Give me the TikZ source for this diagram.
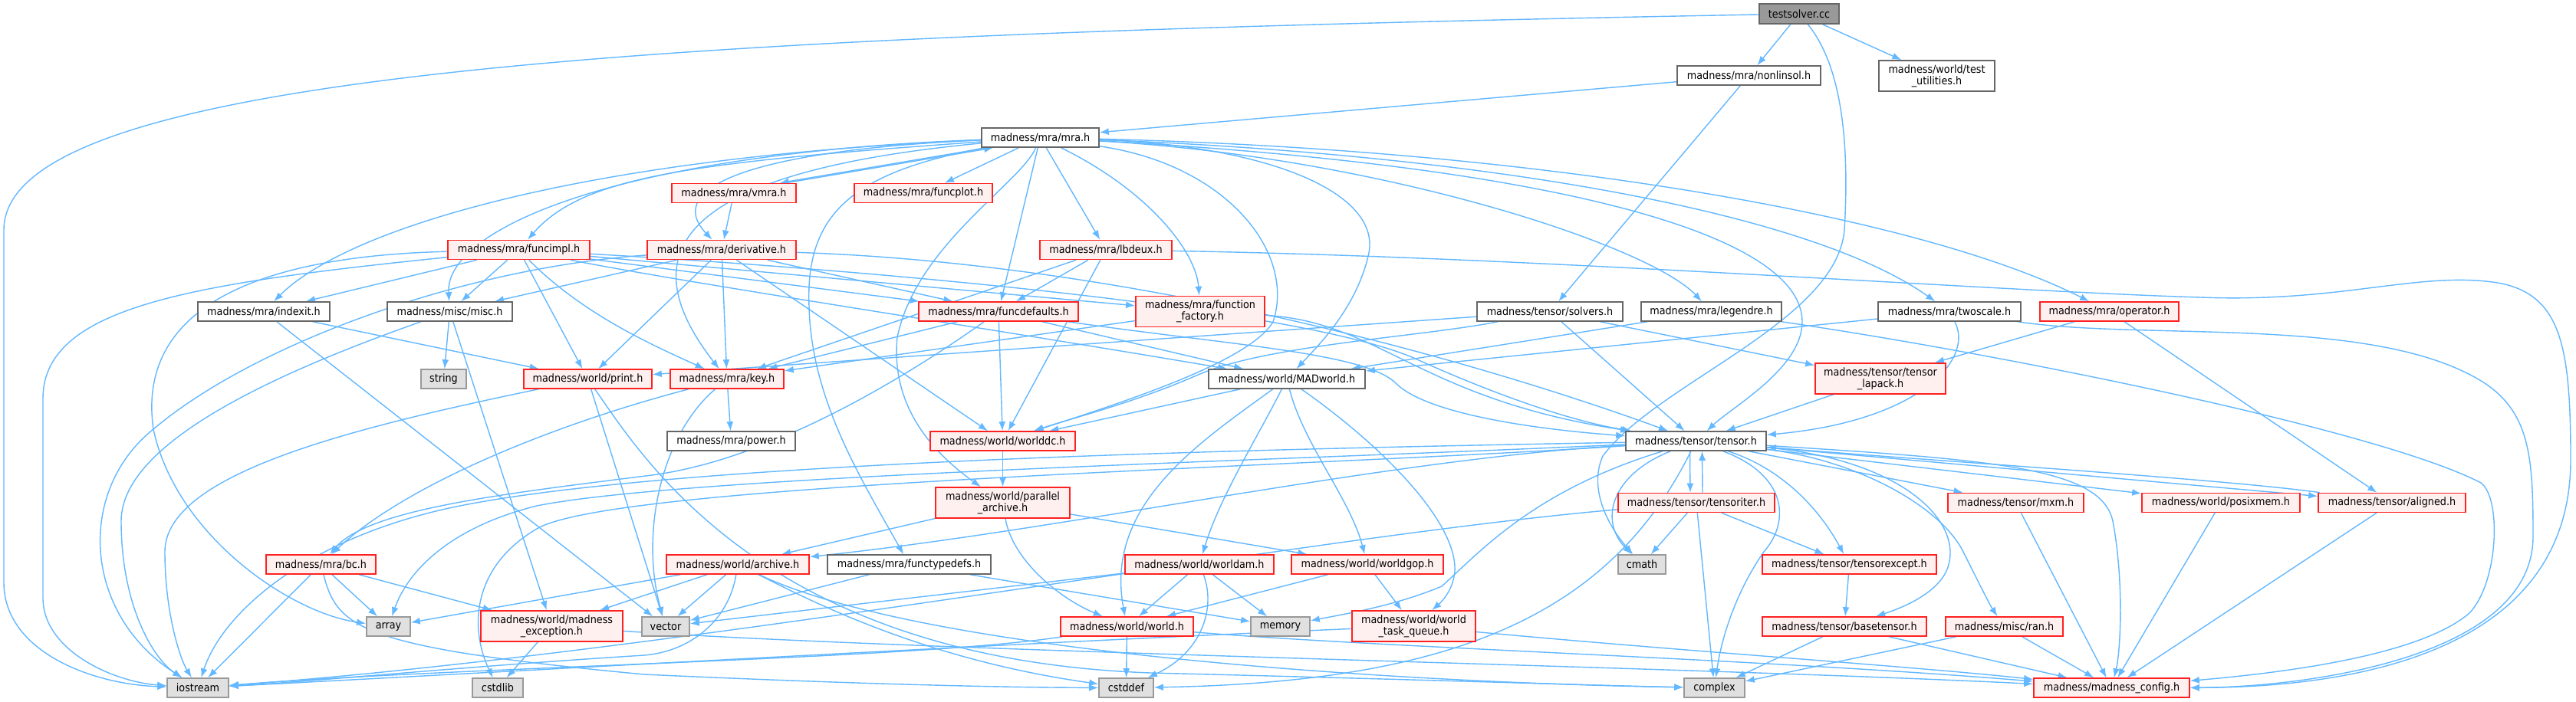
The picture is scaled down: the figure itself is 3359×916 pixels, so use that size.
\documentclass[tikz,border=0pt]{standalone}
\usepackage{fontspec}
\setmainfont{DejaVu Sans}[FakeStretch=0.9]
\usetikzlibrary{arrows.meta,calc}
\pgfdeclarelayer{bg}
\pgfsetlayers{bg,main}
\definecolor{edgecol}{HTML}{63B8FF}
\definecolor{redfill}{HTML}{FFF0F0}
\definecolor{extfill}{HTML}{E0E0E0}
\definecolor{extdraw}{HTML}{999999}
\definecolor{nddraw}{HTML}{666666}
\definecolor{rootfill}{HTML}{999999}
\definecolor{reddraw}{HTML}{FF2020}
\tikzset{
  base/.style={rectangle, inner sep=0pt, line width=0.8pt, minimum height=12.5pt, font=\fontsize{7.1}{7.6}\selectfont, align=center},
  nd/.style={base, draw=nddraw, fill=white},
  rd/.style={base, draw=reddraw, fill=redfill},
  ex/.style={base, draw=extdraw, fill=extfill},
  rt/.style={base, draw=nddraw, fill=rootfill, minimum height=13pt},
  tall/.style={minimum height=20pt},
  edge/.style={draw=edgecol, line width=0.7pt, -{Latex[length=6pt,width=4.5pt]}},
}
\begin{document}
\begin{tikzpicture}[x=0.5pt,y=-0.5pt]
\useasboundingbox (0,0) rectangle (3359,916);
% nodes
\node[rt, minimum width=52pt] (T) at (2346,18) {testsolver.cc};
\node[nd, minimum width=93.5pt] (NL) at (2280.5,98.5) {madness/mra/nonlinsol.h};
\node[nd, tall, minimum width=75.5pt] (TU) at (2525.5,99) {madness/world/test\\\_utilities.h};
\node[nd, minimum width=76.5pt] (MRA) at (1356.5,179.5) {madness/mra/mra.h};
\node[rd, minimum width=81pt] (VMRA) at (957,252) {madness/mra/vmra.h};
\node[rd, minimum width=90pt] (FPLOT) at (1204,252) {madness/mra/funcplot.h};
\node[rd, minimum width=92.5pt] (FIMPL) at (676.5,326) {madness/mra/funcimpl.h};
\node[rd, minimum width=97pt] (DER) at (941,326) {madness/mra/derivative.h};
\node[rd, minimum width=86pt] (LB) at (1442,326) {madness/mra/lbdeux.h};
\node[nd, minimum width=86pt] (IDX) at (344,406.5) {madness/mra/indexit.h};
\node[nd, minimum width=81.5pt] (MISC) at (586.5,406.5) {madness/misc/misc.h};
\node[rd, minimum width=104pt] (FDEF) at (1302,406.5) {madness/mra/funcdefaults.h};
\node[rd, tall, minimum width=84pt] (FFAC) at (1565,406.5) {madness/mra/function\\\_factory.h};
\node[nd, minimum width=95pt] (SOLV) at (2021,406.5) {madness/tensor/solvers.h};
\node[nd, minimum width=91.5pt] (LEG) at (2231.5,406.5) {madness/mra/legendre.h};
\node[nd, minimum width=93pt] (TWO) at (2542,406.5) {madness/mra/twoscale.h};
\node[rd, minimum width=90.5pt] (OP) at (2750.5,406.5) {madness/mra/operator.h};
\node[ex, minimum width=29.5pt] (STR) at (578.5,494.5) {string};
\node[rd, minimum width=83.5pt] (PRINT) at (766.5,494.5) {madness/world/print.h};
\node[rd, minimum width=74pt] (KEY) at (948,494.5) {madness/mra/key.h};
\node[nd, minimum width=102pt] (MADW) at (1678,494.5) {madness/world/MADworld.h};
\node[rd, tall, minimum width=85pt] (LAPACK) at (2452,494) {madness/tensor/tensor\\\_lapack.h};
\node[nd, minimum width=83.5pt] (POW) at (953.5,575.5) {madness/mra/power.h};
\node[rd, minimum width=94.5pt] (WDC) at (1307.5,575.5) {madness/world/worlddc.h};
\node[nd, minimum width=91.5pt] (TENS) at (2211.5,575.5) {madness/tensor/tensor.h};
\node[rd, tall, minimum width=87.5pt] (PAR) at (1307.5,656) {madness/world/parallel\\\_archive.h};
\node[rd, minimum width=102pt] (TITER) at (2212,656) {madness/tensor/tensoriter.h};
\node[rd, minimum width=88.5pt] (MXM) at (2628.5,656) {madness/tensor/mxm.h};
\node[rd, minimum width=103pt] (POSIX) at (2896,656) {madness/world/posixmem.h};
\node[rd, minimum width=96pt] (ALIGN) at (3119,656) {madness/tensor/aligned.h};
\node[rd, minimum width=71.5pt] (BC) at (418.5,736.5) {madness/mra/bc.h};
\node[rd, minimum width=93pt] (ARCH) at (962,736.5) {madness/world/archive.h};
\node[nd, minimum width=106.5pt] (FTD) at (1185.5,736.5) {madness/mra/functypedefs.h};
\node[rd, minimum width=97pt] (WAM) at (1564,736.5) {madness/world/worldam.h};
\node[rd, minimum width=99pt] (WGOP) at (1783,736.5) {madness/world/worldgop.h};
\node[ex, minimum width=31pt] (CMATH) at (2141,736.5) {cmath};
\node[rd, minimum width=113.5pt] (TEXC) at (2411.5,736.5) {madness/tensor/tensorexcept.h};
\node[ex, minimum width=28.5pt] (ARRAY) at (506.5,817.5) {array};
\node[rd, tall, minimum width=92.5pt] (MEXC) at (719.5,817) {madness/world/madness\\\_exception.h};
\node[ex, minimum width=31pt] (VEC) at (868,817.5) {vector};
\node[rd, minimum width=86.5pt] (WORLD) at (1469.5,817.5) {madness/world/world.h};
\node[ex, minimum width=38.5pt] (MEM) at (1669.5,817.5) {memory};
\node[rd, tall, minimum width=80.5pt] (WTQ) at (1843.5,817) {madness/world/world\\\_task\_queue.h};
\node[rd, minimum width=107pt] (BASET) at (2405,817.5) {madness/tensor/basetensor.h};
\node[rd, minimum width=76.5pt] (RAN) at (2613.5,817.5) {madness/misc/ran.h};
\node[ex, minimum width=40pt] (IOS) at (258,897.5) {iostream};
\node[ex, minimum width=33pt] (CSTDLIB) at (649,897.5) {cstdlib};
\node[ex, minimum width=35.5pt] (CSTDDEF) at (1468.5,897.5) {cstddef};
\node[ex, minimum width=39.5pt] (COMPLEX) at (2235.5,897.5) {complex};
\node[rd, minimum width=101.5pt] (CFG) at (2753.5,897.5) {madness/madness\_config.h};

\begin{pgfonlayer}{bg}
\fill[white] (0,0) rectangle (3359,916);
% testsolver
\draw[edge] (T) -- (NL);
\draw[edge] (T) -- (TU);
\draw[edge] (T) .. controls (900,45) and (5,90) .. (5,300) -- (5,760) .. controls (5,850) and (120,893) .. (IOS);
\draw[edge] (T) .. controls (2405,90) and (2411,200) .. (2405,300) .. controls (2395,420) and (2160,500) .. (2090,595) .. controls (2070,640) and (2100,690) .. (CMATH);
% nonlinsol
\draw[edge] (NL) -- (MRA);
\draw[edge] (NL) -- (SOLV);
% mra
\draw[edge] ($(MRA.south west)+(8,0)$) -- ($(VMRA.north east)+(-22,0)$);
\draw[edge] ($(VMRA.north east)+(-14,0)$) -- ($(MRA.south west)+(16,0)$);
\draw[edge] (MRA) -- (FPLOT);
\draw[edge] (MRA) .. controls (900,212) and (760,230) .. (FIMPL);
\draw[edge] (MRA) .. controls (1000,195) and (860,240) .. (DER);
\draw[edge] (MRA) .. controls (750,205) and (450,300) .. (IDX);
\draw[edge] (MRA) .. controls (800,200) and (580,300) .. (MISC);
\draw[edge] (MRA) .. controls (880,225) and (820,330) .. (KEY);
\draw[edge] (MRA) -- (FDEF);
\draw[edge] (MRA) -- (LB);
\draw[edge] (MRA) .. controls (1500,250) and (1560,330) .. (FFAC);
\draw[edge] (MRA) .. controls (1110,225) and (1050,280) .. (1055,400) .. controls (1058,520) and (1120,620) .. (FTD);
\draw[edge] (MRA) .. controls (1330,240) and (1195,320) .. (1170,440) .. controls (1160,540) and (1230,600) .. (PAR);
\draw[edge] (MRA) .. controls (1650,190) and (1800,250) .. (1785,330) .. controls (1770,400) and (1720,450) .. (MADW);
\draw[edge] (MRA) .. controls (1800,205) and (2150,320) .. (LEG);
\draw[edge] (MRA) .. controls (2000,215) and (2350,300) .. (2350,420) .. controls (2350,480) and (2260,530) .. (TENS);
\draw[edge] (MRA) .. controls (1900,200) and (2350,270) .. (TWO);
\draw[edge] (MRA) .. controls (2000,195) and (2500,280) .. (OP);
\draw[edge] (MRA) .. controls (1600,215) and (1690,330) .. (1660,420) .. controls (1630,470) and (1480,520) .. (WDC);
% vmra
\draw[edge] (VMRA) -- (DER);
% funcimpl
\draw[edge] (FIMPL) -- (IDX);
\draw[edge] (FIMPL) -- (MISC);
\draw[edge] (FIMPL) -- (PRINT);
\draw[edge] (FIMPL) .. controls (760,410) and (850,450) .. (KEY);
\draw[edge] (FIMPL) -- (FDEF);
\draw[edge] (FIMPL) -- (FFAC);
\draw[edge] (FIMPL) .. controls (900,370) and (1300,430) .. (MADW);
\draw[edge] (FIMPL) .. controls (1100,350) and (1700,400) .. (1850,470) .. controls (1950,515) and (2050,550) .. (TENS);
\draw[edge] (FIMPL) .. controls (250,370) and (56,400) .. (56,520) -- (56,780) .. controls (56,850) and (150,890) .. (IOS);
\draw[edge] (FIMPL) .. controls (300,335) and (180,420) .. (200,560) .. controls (230,700) and (380,800) .. (ARRAY);
% derivative
\draw[edge] (DER) -- (MISC);
\draw[edge] (DER) -- (KEY);
\draw[edge] (DER) -- (PRINT);
\draw[edge] (DER) -- (FDEF);
\draw[edge] (DER) -- (WDC);
\draw[edge] (DER) .. controls (1500,345) and (1950,480) .. (TENS);
\draw[edge] (DER) .. controls (600,350) and (330,450) .. (200,560) .. controls (100,640) and (107,800) .. (IOS);
% lbdeux
\draw[edge] (LB) -- (FDEF);
\draw[edge] (LB) -- (KEY);
\draw[edge] (LB) -- (WDC);
\draw[edge] (LB) .. controls (2000,335) and (2600,380) .. (2870,388) .. controls (3050,395) and (3150,355) .. (3250,368) .. controls (3340,380) and (3352,450) .. (3352,600) .. controls (3352,860) and (3050,897) .. (CFG);
% indexit, misc
\draw[edge] (IDX) -- (PRINT);
\draw[edge] (IDX) -- (VEC);
\draw[edge] (MISC) -- (STR);
\draw[edge] (MISC) .. controls (350,490) and (158,580) .. (158,680) .. controls (158,790) and (200,860) .. (IOS);
\draw[edge] (MISC) -- (MEXC);
% funcdefaults
\draw[edge] (FDEF) -- (KEY);
\draw[edge] (FDEF) -- (WDC);
\draw[edge] (FDEF) -- (MADW);
\draw[edge] (FDEF) .. controls (1600,450) and (1780,460) .. (1820,500) .. controls (1860,540) and (2000,560) .. (TENS);
\draw[edge] (FDEF) .. controls (1170,500) and (1000,600) .. (850,620) .. controls (650,645) and (480,665) .. (BC);
% function_factory
\draw[edge] (FFAC) -- (KEY);
\draw[edge] (FFAC) .. controls (1800,420) and (1850,520) .. (TENS);
% solvers
\draw[edge] (SOLV) -- (TENS);
\draw[edge] (SOLV) -- (LAPACK);
\draw[edge] (SOLV) -- (PRINT);
\draw[edge] (SOLV) .. controls (1850,440) and (1650,450) .. (1560,490) .. controls (1480,525) and (1400,545) .. (WDC);
% legendre
\draw[edge] (LEG) -- (MADW);
\draw[edge] (LEG) .. controls (2600,460) and (3100,560) .. (3235,630) .. controls (3262,650) and (3258,760) .. (3220,800) .. controls (3150,860) and (2950,880) .. (CFG);
% twoscale
\draw[edge] (TWO) -- (MADW);
\draw[edge] (TWO) .. controls (2575,470) and (2500,550) .. (TENS);
\draw[edge] (TWO) .. controls (2800,445) and (3100,410) .. (3240,500) .. controls (3300,540) and (3303,600) .. (3303,700) .. controls (3303,860) and (3000,897) .. (CFG);
% operator, lapack
\draw[edge] (OP) -- (LAPACK);
\draw[edge] (OP) -- (ALIGN);
\draw[edge] (LAPACK) -- (TENS);
% print
\draw[edge] (PRINT) .. controls (450,560) and (215,620) .. (215,720) .. controls (215,800) and (235,860) .. (IOS);
\draw[edge] (PRINT) -- (VEC);
\draw[edge] (PRINT) .. controls (840,600) and (1000,860) .. (1500,878) .. controls (1900,888) and (2100,895) .. (COMPLEX);
% key
\draw[edge] (KEY) -- (POW);
\draw[edge] (KEY) .. controls (700,560) and (520,640) .. (BC);
\draw[edge] (KEY) .. controls (860,570) and (835,700) .. (VEC);
% MADworld
\draw[edge] (MADW) -- (WDC);
\draw[edge] (MADW) .. controls (1560,580) and (1440,660) .. (WORLD);
\draw[edge] (MADW) .. controls (1640,570) and (1590,650) .. (WAM);
\draw[edge] (MADW) .. controls (1700,580) and (1760,650) .. (WGOP);
\draw[edge] (MADW) .. controls (1800,580) and (1900,680) .. (1897,745) .. controls (1895,770) and (1880,785) .. (WTQ);
\draw[edge] (WDC) -- (PAR);
% tensor
\draw[edge] ($(TENS.south)+(-8,0)$) -- ($(TITER.north)+(-8,0)$);
\draw[edge] ($(TITER.north)+(8,0)$) -- ($(TENS.south)+(8,0)$);
\draw[edge] (TENS) .. controls (2100,620) and (2085,680) .. (CMATH);
\draw[edge] (TENS) .. controls (2330,620) and (2335,680) .. (2300,720) .. controls (2265,770) and (2245,830) .. (COMPLEX);
\draw[edge] (TENS) .. controls (2320,610) and (2370,660) .. (TEXC);
\draw[edge] (TENS) .. controls (2480,600) and (2560,680) .. (2540,740) .. controls (2530,770) and (2490,790) .. (BASET);
\draw[edge] (TENS) .. controls (2420,600) and (2530,660) .. (2560,720) .. controls (2580,760) and (2595,790) .. (RAN);
\draw[edge] (TENS) -- (MXM);
\draw[edge] (TENS) -- (POSIX);
\draw[edge] (TENS) -- (ALIGN);
\draw[edge] (ALIGN) .. controls (2900,625) and (2500,600) .. (TENS);
\draw[edge] (TENS) .. controls (2600,600) and (2740,610) .. (2755,680) .. controls (2770,760) and (2765,850) .. (CFG);
\draw[edge] (TENS) .. controls (1800,600) and (1400,690) .. (ARCH);
\draw[edge] (TENS) .. controls (1700,600) and (900,620) .. (700,660) .. controls (580,690) and (530,750) .. (ARRAY);
\draw[edge] (TENS) .. controls (1700,585) and (900,600) .. (600,660) .. controls (400,700) and (290,800) .. (IOS);
\draw[edge] (TENS) .. controls (2000,640) and (1930,720) .. (1880,765) .. controls (1820,790) and (1760,800) .. (MEM);
\draw[edge] (TENS) .. controls (2100,800) and (1900,890) .. (CSTDDEF);
\draw[edge] (TENS) .. controls (1700,610) and (800,630) .. (700,690) .. controls (615,740) and (612,820) .. (CSTDLIB);
% tensoriter
\draw[edge] (TITER) -- (CMATH);
\draw[edge] (TITER) -- (COMPLEX);
\draw[edge] (TITER) -- (TEXC);
\draw[edge] (TITER) .. controls (1700,700) and (900,850) .. (IOS);
\draw[edge] (TEXC) -- (BASET);
\draw[edge] (BASET) -- (COMPLEX);
\draw[edge] (BASET) -- (CFG);
\draw[edge] (MXM) -- (CFG);
\draw[edge] (POSIX) -- (CFG);
\draw[edge] (ALIGN) -- (CFG);
\draw[edge] (RAN) -- (COMPLEX);
\draw[edge] (RAN) -- (CFG);
% parallel archive
\draw[edge] (PAR) -- (ARCH);
\draw[edge] (PAR) .. controls (1320,730) and (1380,780) .. (WORLD);
\draw[edge] (PAR) -- (WGOP);
% archive
\draw[edge] (ARCH) -- (VEC);
\draw[edge] (ARCH) -- (ARRAY);
\draw[edge] (ARCH) -- (MEXC);
\draw[edge] (ARCH) .. controls (950,810) and (900,850) .. (840,855) .. controls (600,870) and (400,890) .. (IOS);
\draw[edge] (ARCH) .. controls (1050,780) and (1200,860) .. (CSTDDEF);
\draw[edge] (ARCH) .. controls (1200,850) and (1800,890) .. (COMPLEX);
% functypedefs
\draw[edge] (FTD) -- (VEC);
\draw[edge] (FTD) -- (MEM);
% worldam
\draw[edge] (WAM) -- (WORLD);
\draw[edge] (WAM) -- (MEM);
\draw[edge] (WAM) .. controls (1585,790) and (1570,850) .. (CSTDDEF);
\draw[edge] (WAM) -- (VEC);
% worldgop
\draw[edge] (WGOP) -- (WORLD);
\draw[edge] (WGOP) -- (WTQ);
% world
\draw[edge] (WORLD) .. controls (1200,860) and (600,870) .. (IOS);
\draw[edge] (WORLD) -- (CSTDDEF);
\draw[edge] (WORLD) .. controls (1800,845) and (2300,860) .. (CFG);
% task queue
\draw[edge] (WTQ) .. controls (1300,840) and (600,880) .. (IOS);
\draw[edge] (WTQ) .. controls (2200,850) and (2500,870) .. (CFG);
% exception
\draw[edge] (MEXC) -- (CSTDLIB);
\draw[edge] (MEXC) .. controls (1200,850) and (2200,870) .. (CFG);
% bc
\draw[edge] (BC) -- (IOS);
\draw[edge] (BC) -- (ARRAY);
\draw[edge] (BC) -- (MEXC);
\draw[edge] (BC) .. controls (440,820) and (470,845) .. (840,880) .. controls (1100,892) and (1300,897) .. (CSTDDEF);
\end{pgfonlayer}
\end{tikzpicture}
\end{document}
